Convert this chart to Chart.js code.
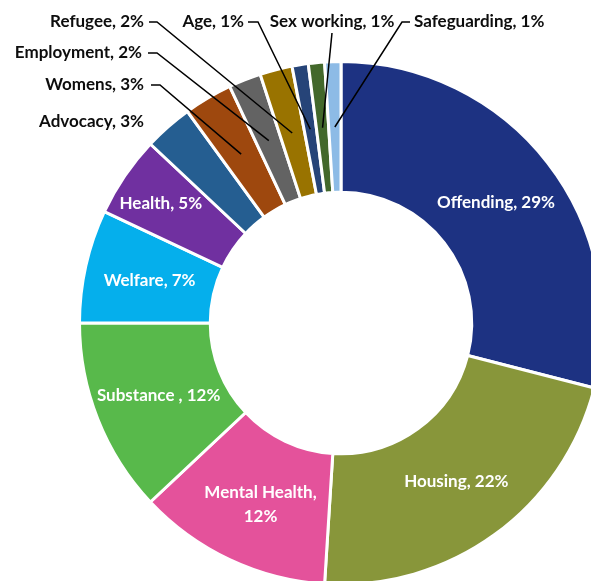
<!DOCTYPE html>
<html>
<head>
<meta charset="utf-8">
<script src="https://cdn.jsdelivr.net/npm/chart.js@4.4.1/dist/chart.umd.min.js"></script>
<style>
  html, body { margin: 0; padding: 0; background: #fff; overflow: hidden; }
  #dona { position: absolute; left: 0; top: 0; }
</style>
</head>
<body>
<canvas id="dona" width="682" height="646"></canvas>
<script>
// referrals by need, in percent, clockwise from 12 o'clock
const categories = ['Offending', 'Housing', 'Mental Health', 'Substance ', 'Welfare', 'Health',
                    'Advocacy', 'Womens', 'Employment', 'Refugee', 'Age', 'Sex working', 'Safeguarding'];
const percents = [29, 22, 12, 12, 7, 5, 3, 3, 2, 2, 1, 1, 1];
const colors = ['#1D3282', '#88963A', '#E4529B', '#58B94B', '#05AFEC', '#7030A0',
                '#255E91', '#9E480E', '#636363', '#997300', '#264478', '#43682B', '#8DBBE6'];

// labels that sit outside the ring, with their leader line points
const outside = {
  'Advocacy':     { x: 144, y: 122, align: 'right' },
  'Womens':       { x: 144, y: 85,  align: 'right', line: [[151, 85], [160, 85]] },
  'Employment':   { x: 142, y: 53,  align: 'right', line: [[148, 53], [157, 53]] },
  'Refugee':      { x: 144, y: 22,  align: 'right', line: [[149, 22], [157, 22]] },
  'Age':          { x: 244, y: 22,  align: 'right', line: [[248, 22], [258, 22]] },
  'Sex working':  { x: 332, y: 22,  align: 'center', line: [[332, 33]] },
  'Safeguarding': { x: 414, y: 22,  align: 'left', line: [[410, 22], [402, 22]] }
};
// small nudges for labels drawn inside the slices
const nudge = { 'Health': [-18, -9], 'Mental Health': [3, 4] };

const FONT = 'bold 17px Lato, "Liberation Sans", sans-serif';

const labelsPlugin = {
  id: 'labels',
  afterDatasetsDraw(chart) {
    const ctx = chart.ctx;
    const arcs = chart.getDatasetMeta(0).data;
    ctx.save();
    ctx.font = FONT;
    ctx.textBaseline = 'middle';
    arcs.forEach((arc, i) => {
      const name = categories[i].trim();
      const text = categories[i] + ', ' + percents[i] + '%';
      const p = arc.tooltipPosition();
      const out = outside[name];
      if (out) {
        ctx.fillStyle = '#0D0D0D';
        ctx.textAlign = out.align;
        ctx.fillText(text, out.x, out.y);
        if (out.line) {
          ctx.strokeStyle = '#000';
          ctx.lineWidth = 1.5;
          ctx.beginPath();
          ctx.moveTo(out.line[0][0], out.line[0][1]);
          for (let k = 1; k < out.line.length; k++) ctx.lineTo(out.line[k][0], out.line[k][1]);
          ctx.lineTo(p.x, p.y);
          ctx.stroke();
        }
      } else {
        const d = nudge[name] || [0, 0];
        ctx.fillStyle = '#fff';
        ctx.textAlign = 'center';
        if (name === 'Mental Health') {
          ctx.fillText(categories[i] + ',', p.x + d[0], p.y + d[1] - 12);
          ctx.fillText(percents[i] + '%', p.x + d[0], p.y + d[1] + 12);
        } else {
          ctx.fillText(text, p.x + d[0], p.y + d[1]);
        }
      }
    });
    ctx.restore();
  }
};

const ctx = document.getElementById('dona').getContext('2d');
new Chart(ctx, {
  type: 'doughnut',
  data: {
    labels: categories,
    datasets: [{
      data: percents,
      backgroundColor: colors,
      borderColor: '#fff',
      borderWidth: 3
    }]
  },
  options: {
    responsive: false,
    animation: false,
    cutout: '50%',
    layout: { padding: { left: 78, right: 78, top: 60, bottom: 60 } },
    plugins: {
      legend: { display: false },
      tooltip: { enabled: false }
    }
  },
  plugins: [labelsPlugin]
});
</script>
</body>
</html>
